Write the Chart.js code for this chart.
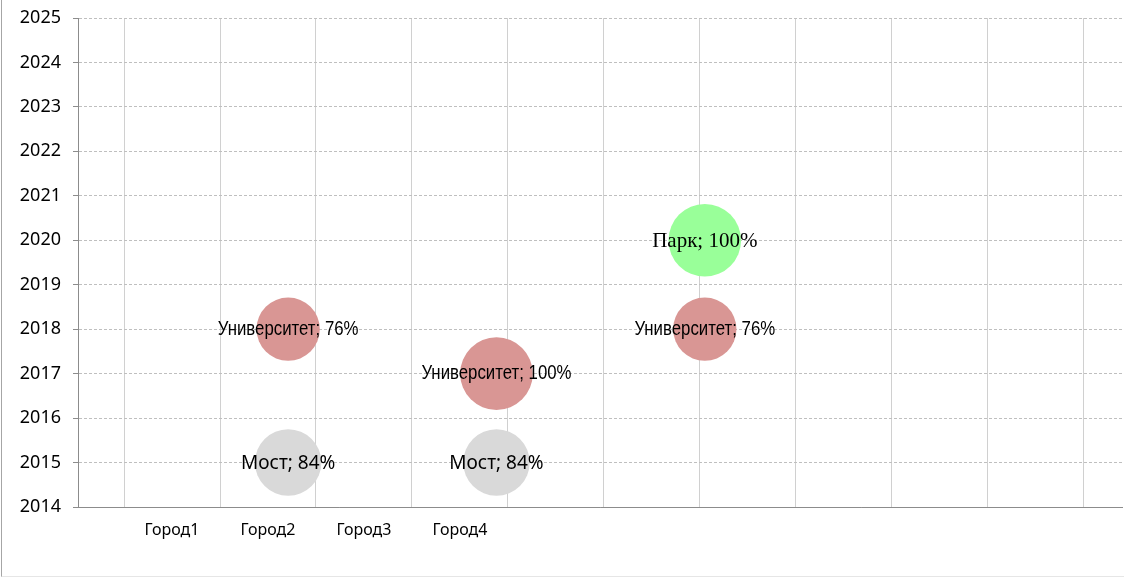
<!DOCTYPE html>
<html>
<head>
<meta charset="utf-8">
<script src="https://cdn.jsdelivr.net/npm/chart.js@4/dist/chart.umd.min.js"></script>
<style>
    body { margin: 0; background: #fff; }
    #wrap { position: relative; width: 1124px; height: 579px; overflow: hidden; }
    #frame {
        position: absolute; left: 1px; top: -2px; width: 1130px; height: 579px;
        border-left: 1px solid #a6a6a6; border-bottom: 1px solid #e6e6e6;
        box-sizing: border-box; pointer-events: none;
    }
</style>
</head>
<body>
<div id="wrap">
    <canvas id="mainChart" width="1124" height="579"></canvas>
    <div id="frame"></div>
</div>
<script>
// kategorie na ose X (popisky mezi mřížkou)
const cityLabels = ['Город1', 'Город2', 'Город3', 'Город4'];
const cityPos = [1.5, 2.5, 3.5, 4.5];

// série bublin: x, rok, velikost (%)
const uniX = [2.71, 4.88, 7.05];
const uniY = [2018, 2017, 2018];
const uniSize = [76, 100, 76];

const mostX = [2.71, 4.88];
const mostY = [2015, 2015];
const mostSize = [84, 84];

const parkX = [7.05];
const parkY = [2020];
const parkSize = [100];

const gridLines = [1, 2, 3, 4, 5, 6, 7, 8, 9, 10, 11];

const maxRadius = 36.3; // bublina se 100 %

function toPoints(xs, ys, sizes) {
    return xs.map((x, i) => ({ x: x, y: ys[i], v: sizes[i] }));
}

const seriesConfigs = [
    { label: 'Университет', color: '#d99694', font: '20px "Liberation Sans", Arial, sans-serif', squeeze: 0.84, dy: 0,
      data: toPoints(uniX, uniY, uniSize) },
    { label: 'Мост', color: '#d9d9d9', font: '19px "Noto Sans", sans-serif', squeeze: 1, dy: 1,
      data: toPoints(mostX, mostY, mostSize) },
    { label: 'Парк', color: '#99ff99', font: '21px "Liberation Serif", "Times New Roman", serif', squeeze: 1, dy: 1,
      data: toPoints(parkX, parkY, parkSize) }
];

// popisky "název; %" přímo v bublinách
const bubbleLabels = {
    id: 'bubbleLabels',
    afterDraw(chart) {
        const ctx = chart.ctx;
        chart.data.datasets.forEach((ds, di) => {
            const meta = chart.getDatasetMeta(di);
            const cfg = seriesConfigs[di];
            meta.data.forEach((el, i) => {
                const text = ds.label + '; ' + ds.data[i].v + '%';
                ctx.save();
                ctx.translate(el.x, el.y + cfg.dy);
                ctx.scale(cfg.squeeze, 1);
                ctx.font = cfg.font;
                ctx.fillStyle = '#000';
                ctx.textAlign = 'center';
                ctx.textBaseline = 'middle';
                ctx.fillText(text, 0, 0);
                ctx.restore();
            });
        });
    }
};

const ctx = document.getElementById('mainChart').getContext('2d');

new Chart(ctx, {
    type: 'bubble',
    data: {
        datasets: seriesConfigs.map(c => ({
            label: c.label,
            data: c.data,
            backgroundColor: c.color,
            borderWidth: 0,
            radius: (context) => maxRadius * Math.sqrt(context.raw.v / 100)
        }))
    },
    options: {
        responsive: false,
        devicePixelRatio: 1,
        animation: false,
        layout: { autoPadding: false, padding: { top: 18, right: 2, bottom: 0, left: 0 } },
        plugins: {
            legend: { display: false },
            tooltip: { enabled: false }
        },
        scales: {
            x: {
                type: 'linear',
                min: 0.5208,
                max: 11.396,
                z: 1,
                afterBuildTicks: (scale) => {
                    const ticks = gridLines.map(v => ({ value: v }))
                        .concat(cityPos.map(v => ({ value: v })));
                    ticks.sort((a, b) => a.value - b.value);
                    scale.ticks = ticks;
                },
                afterFit: (scale) => {
                    scale.height = 72;
                    scale.paddingLeft = 0;
                    scale.paddingRight = 0;
                },
                grid: {
                    color: (c) => (c.tick && Number.isInteger(c.tick.value)) ? '#d0d0d0' : 'rgba(0,0,0,0)',
                    lineWidth: 1,
                    drawTicks: false
                },
                border: { display: true, color: '#8c8c8c', width: 1 },
                ticks: {
                    autoSkip: false,
                    maxRotation: 0,
                    padding: 14,
                    color: '#000',
                    font: { family: '"Noto Sans", sans-serif', size: 16 },
                    callback: (value) => {
                        const idx = cityPos.indexOf(value);
                        return idx >= 0 ? cityLabels[idx] : '';
                    }
                }
            },
            y: {
                type: 'linear',
                min: 2014,
                max: 2025,
                z: 1,
                afterFit: (scale) => {
                    scale.width = 78;
                    scale.paddingTop = 0;
                    scale.paddingBottom = 0;
                },
                grid: {
                    color: '#bfbfbf',
                    lineWidth: 1,
                    drawTicks: true,
                    tickLength: 5,
                    tickColor: '#8c8c8c',
                    tickBorderDash: []
                },
                border: { display: true, color: '#8c8c8c', width: 1, dash: [3, 2] },
                ticks: {
                    stepSize: 1,
                    padding: 12,
                    color: '#000',
                    font: { family: '"Noto Sans", sans-serif', size: 18 },
                    callback: (value) => String(value)
                }
            }
        }
    },
    plugins: [bubbleLabels]
});
</script>
</body>
</html>
